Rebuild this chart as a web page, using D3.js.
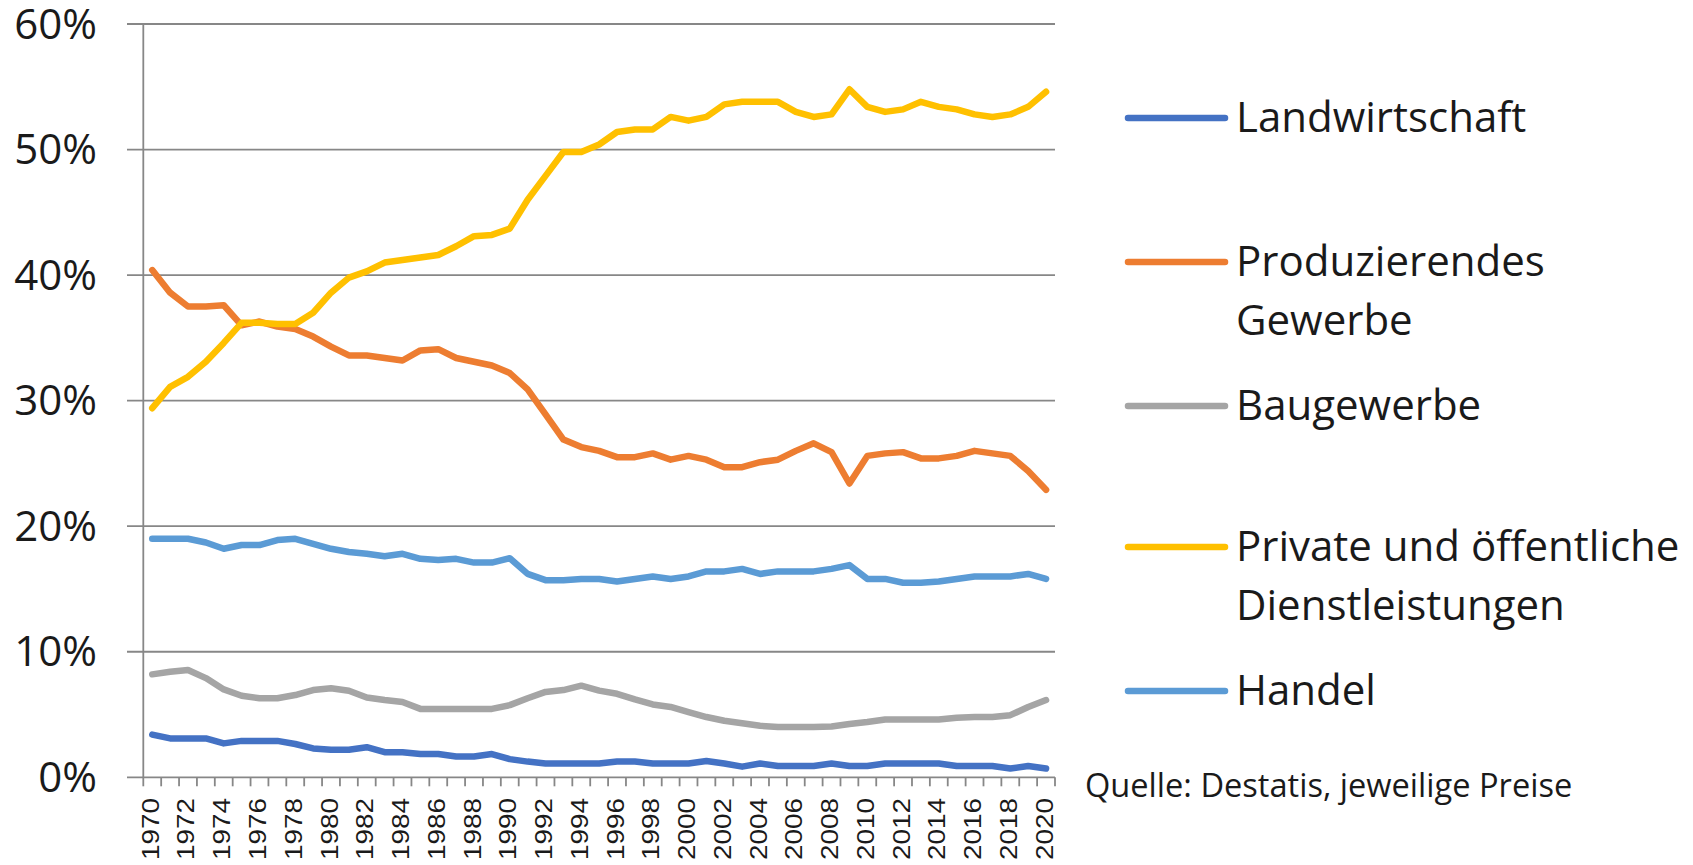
<!DOCTYPE html>
<html lang="de">
<head>
<meta charset="utf-8">
<title>Anteile an der Bruttowertschöpfung</title>
<script src="https://cdn.jsdelivr.net/npm/d3@7"></script>
<style>
  html, body { margin: 0; padding: 0; background: #fff; }
  svg { display: block; }
  .lbl { font-family: "Open Sans", sans-serif; fill: #1a1a1a; }
  .xlbl { font-family: "Liberation Sans", Arial, sans-serif; fill: #1a1a1a; }
</style>
</head>
<body>
<svg id="chart" width="1693" height="865"></svg>
<script>
// --- DATEN (Anteile in %) ---
const years = [1970, 1971, 1972, 1973, 1974, 1975, 1976, 1977, 1978, 1979,
  1980, 1981, 1982, 1983, 1984, 1985, 1986, 1987, 1988, 1989,
  1990, 1991, 1992, 1993, 1994, 1995, 1996, 1997, 1998, 1999,
  2000, 2001, 2002, 2003, 2004, 2005, 2006, 2007, 2008, 2009,
  2010, 2011, 2012, 2013, 2014, 2015, 2016, 2017, 2018, 2019, 2020];

const landwirtschaft = [3.4, 3.1, 3.1, 3.1, 2.7, 2.9, 2.9, 2.9, 2.65, 2.3,
  2.2, 2.2, 2.4, 2.0, 2.0, 1.85, 1.85, 1.65, 1.65, 1.85,
  1.45, 1.25, 1.1, 1.1, 1.1, 1.1, 1.25, 1.25, 1.1, 1.1,
  1.1, 1.3, 1.1, 0.85, 1.1, 0.9, 0.9, 0.9, 1.1, 0.9,
  0.9, 1.1, 1.1, 1.1, 1.1, 0.9, 0.9, 0.9, 0.7, 0.9, 0.7];

const produzierendes = [40.4, 38.6, 37.5, 37.5, 37.6, 36.0, 36.3, 35.9, 35.7, 35.1,
  34.3, 33.6, 33.6, 33.4, 33.2, 34.0, 34.1, 33.4, 33.1, 32.8,
  32.2, 30.9, 28.9, 26.9, 26.3, 26.0, 25.5, 25.5, 25.8, 25.3,
  25.6, 25.3, 24.7, 24.7, 25.1, 25.3, 26.0, 26.6, 25.9, 23.4,
  25.6, 25.8, 25.9, 25.4, 25.4, 25.6, 26.0, 25.8, 25.6, 24.4, 22.9];

const baugewerbe = [8.2, 8.4, 8.55, 7.9, 7.0, 6.5, 6.3, 6.3, 6.55, 6.95,
  7.1, 6.9, 6.35, 6.15, 6.0, 5.45, 5.45, 5.45, 5.45, 5.45,
  5.75, 6.3, 6.8, 6.95, 7.3, 6.9, 6.65, 6.2, 5.8, 5.6,
  5.2, 4.8, 4.5, 4.3, 4.1, 4.0, 4.0, 4.0, 4.05, 4.25,
  4.4, 4.6, 4.6, 4.6, 4.6, 4.75, 4.8, 4.8, 4.95, 5.6, 6.15];

const dienstleistungen = [29.4, 31.1, 31.9, 33.1, 34.6, 36.2, 36.2, 36.1, 36.1, 37.0,
  38.6, 39.8, 40.3, 41.0, 41.2, 41.4, 41.6, 42.3, 43.1, 43.2,
  43.7, 46.0, 47.9, 49.8, 49.8, 50.4, 51.4, 51.6, 51.6, 52.6,
  52.3, 52.6, 53.6, 53.8, 53.8, 53.8, 53.0, 52.6, 52.8, 54.8,
  53.4, 53.0, 53.2, 53.8, 53.4, 53.2, 52.8, 52.6, 52.8, 53.4, 54.6];

const handel = [19.0, 19.0, 19.0, 18.7, 18.2, 18.5, 18.5, 18.9, 19.0, 18.6,
  18.2, 17.95, 17.8, 17.6, 17.8, 17.4, 17.3, 17.4, 17.1, 17.1,
  17.45, 16.2, 15.7, 15.7, 15.8, 15.8, 15.6, 15.8, 16.0, 15.8,
  16.0, 16.4, 16.4, 16.6, 16.2, 16.4, 16.4, 16.4, 16.6, 16.9,
  15.8, 15.8, 15.5, 15.5, 15.6, 15.8, 16.0, 16.0, 16.0, 16.2, 15.8];

const seriesNames = ['Landwirtschaft', 'Produzierendes Gewerbe', 'Baugewerbe',
  'Private und öffentliche Dienstleistungen', 'Handel'];
const seriesValues = [landwirtschaft, produzierendes, baugewerbe, dienstleistungen, handel];
const seriesColors = ['#4472C4', '#ED7D31', '#A5A5A5', '#FFC000', '#5B9BD5'];
// Legendentext, zweizeilig wo nötig
const legendLines = [['Landwirtschaft'], ['Produzierendes', 'Gewerbe'], ['Baugewerbe'],
  ['Private und öffentliche', 'Dienstleistungen'], ['Handel']];
const yTickValues = [0, 10, 20, 30, 40, 50, 60];
const sourceText = 'Quelle: Destatis, jeweilige Preise';

// --- LAYOUT ---
const svg = d3.select('#chart');
const plot = { left: 143.3, right: 1055, top: 24, bottom: 777.3 };
const gridColor = '#878787';

const x = d3.scaleBand().domain(years).range([plot.left, plot.right]);
const y = d3.scaleLinear().domain([0, 60]).range([plot.bottom, plot.top]);
const cx = d => x(d) + x.bandwidth() / 2;

// A. Gitterlinien (inkl. Tick nach links)
svg.append('g').attr('class', 'grid')
  .selectAll('line')
  .data(yTickValues)
  .join('line')
    .attr('x1', 127).attr('x2', plot.right)
    .attr('y1', d => y(d)).attr('y2', d => y(d))
    .attr('stroke', gridColor).attr('stroke-width', 1.8);

// B. Y-Achse mit Prozentlabels
const yAxis = d3.axisLeft(y).tickValues(yTickValues).tickSize(0).tickPadding(0)
  .tickFormat(d => d + '%');
const gy = svg.append('g').attr('transform', 'translate(97,0)').call(yAxis);
gy.select('.domain').remove();
gy.selectAll('text')
  .attr('class', 'lbl')
  .attr('font-size', 42)
  .attr('dy', 14)
  .attr('fill', '#1a1a1a');

svg.append('line')
  .attr('x1', plot.left).attr('x2', plot.left)
  .attr('y1', plot.top).attr('y2', plot.bottom)
  .attr('stroke', gridColor).attr('stroke-width', 1.8);

// C. X-Achse: Ticks an den Kategoriegrenzen, Labels jedes zweite Jahr
const boundaries = years.map(d => x(d)).concat([plot.right]);
svg.append('g').selectAll('line')
  .data(boundaries)
  .join('line')
    .attr('x1', d => d).attr('x2', d => d)
    .attr('y1', plot.bottom).attr('y2', plot.bottom + 9)
    .attr('stroke', gridColor).attr('stroke-width', 1.8);

svg.append('g').selectAll('text')
  .data(years.filter(d => d % 2 === 0))
  .join('text')
    .attr('class', 'xlbl')
    .attr('font-size', 24)
    .attr('text-anchor', 'end')
    .attr('transform', d => `translate(${cx(d) + 6.5},798) rotate(-90)`)
    .attr('textLength', 62)
    .attr('lengthAdjust', 'spacingAndGlyphs')
    .text(d => d);

// D. Linien
const line = d3.line()
  .x((d, i) => cx(years[i]))
  .y(d => y(d));

svg.append('g').attr('class', 'lines')
  .selectAll('path')
  .data(seriesValues)
  .join('path')
    .attr('d', d => line(d))
    .attr('fill', 'none')
    .attr('stroke', (d, i) => seriesColors[i])
    .attr('stroke-width', 6.5)
    .attr('stroke-linejoin', 'round')
    .attr('stroke-linecap', 'round');

// E. Legende
const legendY = [118, 262, 406, 547, 691];
const legend = svg.append('g').attr('class', 'legend')
  .selectAll('g')
  .data(seriesNames)
  .join('g')
    .attr('transform', (d, i) => `translate(0,${legendY[i]})`);

legend.append('line')
  .attr('x1', 1128).attr('x2', 1225)
  .attr('stroke', (d, i) => seriesColors[i])
  .attr('stroke-width', 6.5)
  .attr('stroke-linecap', 'round');

legend.each(function (d, i) {
  const t = d3.select(this).append('text')
    .attr('class', 'lbl')
    .attr('font-size', 42)
    .attr('x', 1236)
    .attr('y', 14);
  legendLines[i].forEach((s, k) => {
    t.append('tspan').attr('x', 1236).attr('dy', k === 0 ? 0 : 59).text(s);
  });
});

// F. Quelle
svg.append('text')
  .attr('class', 'lbl')
  .attr('font-size', 32.6)
  .attr('x', 1085).attr('y', 797)
  .attr('fill', '#000')
  .text(sourceText);
</script>
</body>
</html>
